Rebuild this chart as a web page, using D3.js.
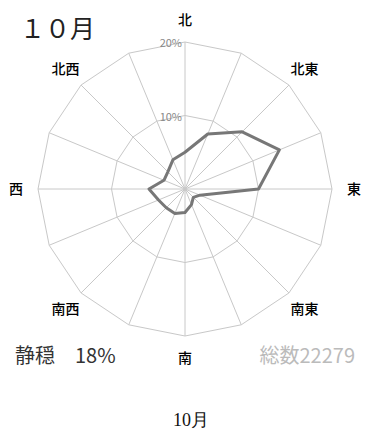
<!DOCTYPE html>
<html>
<head>
<meta charset="UTF-8">
<title>10月 風配図</title>
<script src="https://d3js.org/d3.v7.min.js"></script>
<style>
  body { margin: 0; background: #fff; }
  text { font-family: "Noto Sans CJK JP", "DejaVu Sans", sans-serif; }
  text.caption { font-family: "Liberation Serif", "DejaVu Serif", serif; }
</style>
</head>
<body>
<script>
// 16 directions, clockwise from north
var directions = ["北", "北北東", "北東", "東北東", "東", "東南東", "南東", "南南東",
                  "南", "南南西", "南西", "西南西", "西", "西北西", "北西", "北北西"];
var freq = [5.0, 8.1, 11.0, 13.9, 10.0, 2.2, 1.6, 2.3, 3.2, 3.6, 3.6, 3.9, 4.9, 3.1, 3.3, 4.3];
var ringTicks = [10, 20];
var labelDirs = ["北", "北東", "東", "南東", "南", "南西", "西", "北西"];
var calm = 18;
var total = 22279;
var month = "１０月";

var width = 368, height = 432;
var cx = 185, cy = 189;

var svg = d3.select("body").append("svg")
    .attr("width", width)
    .attr("height", height);

var r = d3.scaleLinear().domain([0, 20]).range([0, 147]);
var angle = d3.scaleLinear().domain([0, directions.length]).range([0, 2 * Math.PI]);

function pt(i, v) {
  var a = angle(i);
  return [cx + r(v) * Math.sin(a), cy - r(v) * Math.cos(a)];
}

var g = svg.append("g");

// rings
g.selectAll(".ring")
  .data(ringTicks)
  .enter().append("polygon")
  .attr("points", function(t) {
    return directions.map(function(d, i) { return pt(i, t).join(","); }).join(" ");
  })
  .attr("fill", "none")
  .attr("stroke", "#c8c8c8")
  .attr("stroke-width", 1);

// spokes
g.selectAll(".spoke")
  .data(directions)
  .enter().append("line")
  .attr("x1", cx).attr("y1", cy)
  .attr("x2", function(d, i) { return pt(i, 20)[0]; })
  .attr("y2", function(d, i) { return pt(i, 20)[1]; })
  .attr("stroke", "#c8c8c8")
  .attr("stroke-width", 1);

// ring labels
g.selectAll(".ringlabel")
  .data(ringTicks)
  .enter().append("text")
  .attr("x", cx - 3)
  .attr("y", function(t) { return cy - r(t) + 5; })
  .attr("text-anchor", "end")
  .attr("font-size", 11)
  .attr("fill", "#888")
  .text(function(t) { return t + "%"; });

// data polygon
g.append("polygon")
  .attr("points", freq.map(function(v, i) { return pt(i, v).join(","); }).join(" "))
  .attr("fill", "none")
  .attr("stroke", "#777")
  .attr("stroke-width", 3)
  .attr("stroke-linejoin", "round");

// direction labels
g.selectAll(".dirlabel")
  .data(labelDirs)
  .enter().append("text")
  .attr("x", function(d) { return pt(directions.indexOf(d), 23)[0]; })
  .attr("y", function(d) { return pt(directions.indexOf(d), 23)[1] + 5; })
  .attr("text-anchor", "middle")
  .attr("font-size", 14)
  .attr("font-weight", 500)
  .attr("fill", "#000")
  .text(function(d) { return d; });

// month title
svg.append("text")
  .attr("x", 20).attr("y", 38)
  .attr("font-size", 25)
  .attr("fill", "#222")
  .text(month);

// calm
svg.append("text")
  .attr("x", 15).attr("y", 363)
  .attr("font-size", 20)
  .attr("fill", "#333")
  .text("静穏　" + calm + "%");

// total
svg.append("text")
  .attr("x", 355).attr("y", 363)
  .attr("text-anchor", "end")
  .attr("font-size", 20)
  .attr("fill", "#bbb")
  .text("総数" + total);

// caption
svg.append("text")
  .attr("class", "caption")
  .attr("x", 191).attr("y", 426)
  .attr("text-anchor", "middle")
  .attr("font-size", 18)
  .attr("fill", "#111")
  .text("10月");
</script>
</body>
</html>
